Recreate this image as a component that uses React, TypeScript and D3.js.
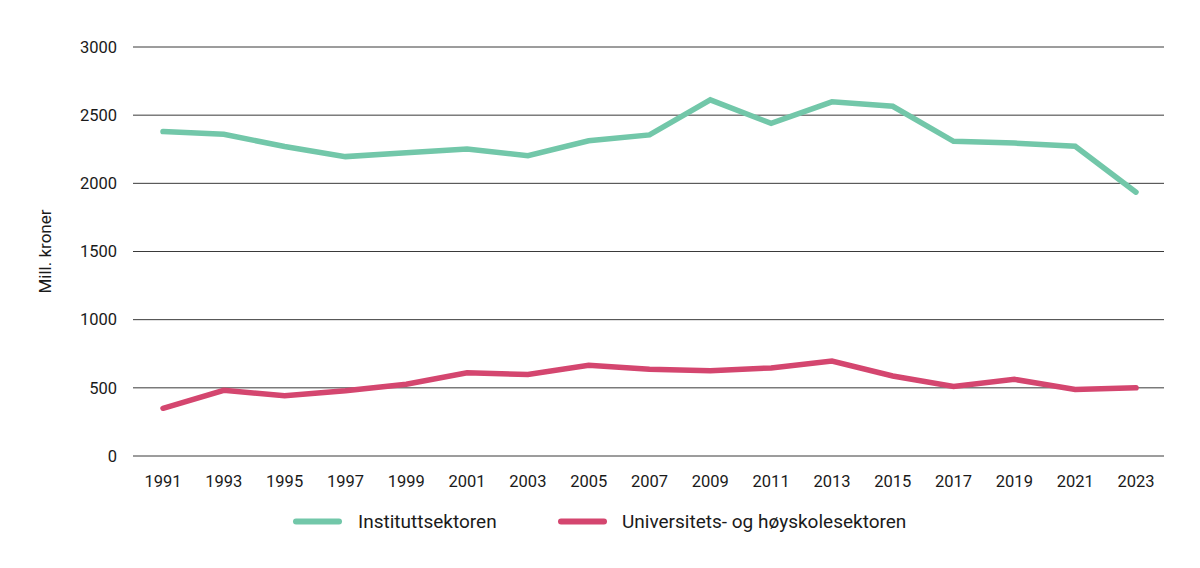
import { useRef, useEffect } from 'react';
import * as d3 from 'd3';

const years = [1991, 1993, 1995, 1997, 1999, 2001, 2003, 2005, 2007, 2009, 2011, 2013, 2015, 2017, 2019, 2021, 2023];
const institutt = [2380, 2360, 2270, 2196, 2225, 2252, 2202, 2312, 2355, 2612, 2440, 2598, 2565, 2308, 2295, 2272, 1935];
const universitet = [350, 482, 442, 478, 526, 610, 598, 665, 636, 626, 646, 696, 587, 510, 562, 488, 500];
const yTicks = [0, 500, 1000, 1500, 2000, 2500, 3000];

const series = [
  { name: 'Instituttsektoren', values: institutt, color: '#72c7a9' },
  { name: 'Universitets- og høyskolesektoren', values: universitet, color: '#d4466f' },
];

const FONT = 'Roboto, "Noto Sans", sans-serif';
const FS = 16.5;

export default function App() {
  const svgRef = useRef<SVGSVGElement>(null);
  const width = 1200;
  const height = 568;
  const margin = { top: 47, right: 36, bottom: 112, left: 133 };

  useEffect(() => {
    const svg = d3.select(svgRef.current);
    svg.selectAll('*').remove();

    const x = d3.scaleLinear().domain([1991, 2023]).range([163, 1136]);
    const y = d3.scaleLinear().domain([0, 3000]).range([height - margin.bottom, margin.top]);

    // Gridlines
    svg.append('g')
      .selectAll('line')
      .data(yTicks)
      .join('line')
      .attr('x1', margin.left)
      .attr('x2', width - margin.right)
      .attr('y1', d => y(d))
      .attr('y2', d => y(d))
      .attr('stroke', '#3a3a3a')
      .attr('stroke-width', 1);

    // Y tick labels
    svg.append('g')
      .selectAll('text')
      .data(yTicks)
      .join('text')
      .attr('x', 117)
      .attr('y', d => y(d))
      .attr('dy', '0.35em')
      .attr('text-anchor', 'end')
      .attr('font-family', FONT)
      .attr('font-size', FS)
      .attr('fill', '#1a1a1a')
      .text(d => d);

    // X tick labels
    svg.append('g')
      .selectAll('text')
      .data(years)
      .join('text')
      .attr('x', d => x(d))
      .attr('y', 487)
      .attr('text-anchor', 'middle')
      .attr('font-family', FONT)
      .attr('font-size', FS)
      .attr('fill', '#1a1a1a')
      .text(d => d);

    // Y axis title
    svg.append('text')
      .attr('transform', `translate(51,${y(1500)}) rotate(-90)`)
      .attr('text-anchor', 'middle')
      .attr('font-family', FONT)
      .attr('font-size', 17)
      .attr('fill', '#1a1a1a')
      .text('Mill. kroner');

    const line = d3.line<number>()
      .x((_d, i) => x(years[i]))
      .y(d => y(d));

    series.forEach(s => {
      svg.append('path')
        .datum(s.values)
        .attr('d', line)
        .attr('fill', 'none')
        .attr('stroke', s.color)
        .attr('stroke-width', 5.5)
        .attr('stroke-linecap', 'round')
        .attr('stroke-linejoin', 'miter');
    });

    // Legend
    const legendX = [296, 561];
    const textX = [358, 622];
    const legend = svg.append('g');
    series.forEach((s, i) => {
      legend.append('line')
        .attr('x1', legendX[i])
        .attr('x2', legendX[i] + 43)
        .attr('y1', 521.5)
        .attr('y2', 521.5)
        .attr('stroke', s.color)
        .attr('stroke-width', 6)
        .attr('stroke-linecap', 'round');
      legend.append('text')
        .attr('x', textX[i])
        .attr('y', 528)
        .attr('font-family', FONT)
        .attr('font-size', 19)
        .attr('fill', '#1a1a1a')
        .text(s.name);
    });
  }, []);

  return (
    <svg
      ref={svgRef}
      width={width}
      height={height}
      style={{ position: 'absolute', left: 0, top: 0, background: '#fff' }}
    />
  );
}
